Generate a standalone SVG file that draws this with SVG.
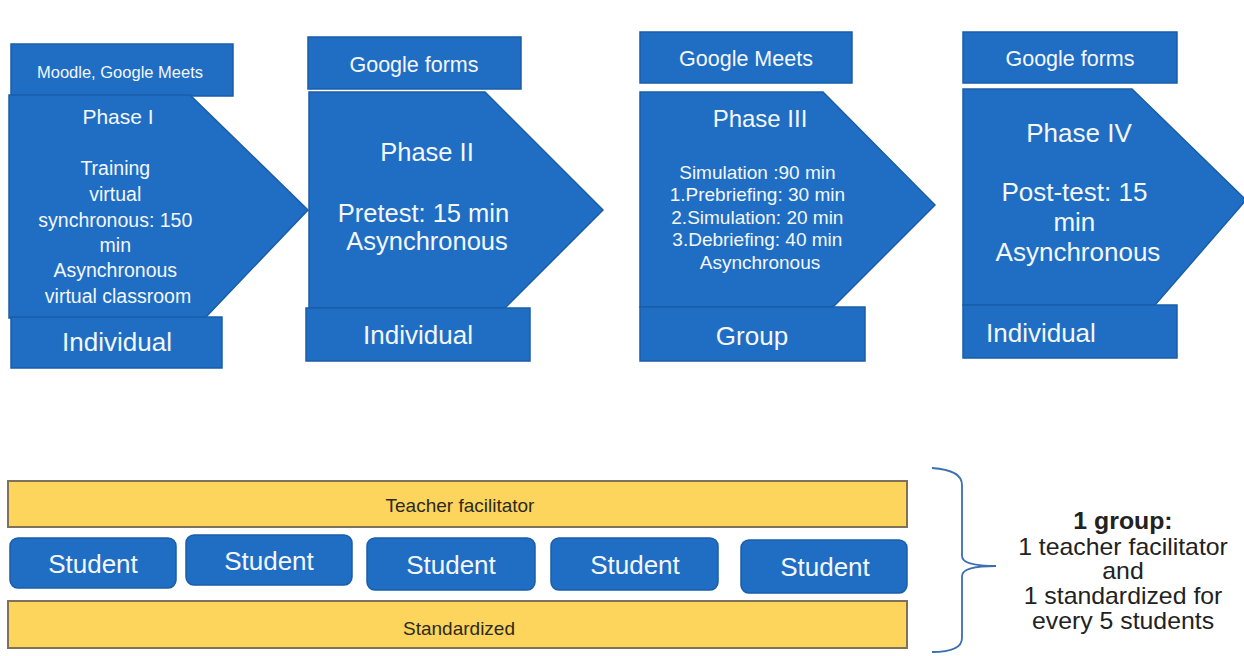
<svg xmlns="http://www.w3.org/2000/svg" width="1244" height="656" viewBox="0 0 1244 656">
  <style>
    .blue { fill: #1f6ec4; stroke: #1a5da8; stroke-width: 1.5; }
    .gold { fill: #fdd55c; stroke: #7d7358; stroke-width: 2; }
    .w { fill: #f4f7fc; font-family: "Liberation Sans", Arial, sans-serif; text-anchor: middle; }
    .left { text-anchor: start; }
    .d { fill: #2e2a1e; font-family: "Liberation Sans", Arial, sans-serif; text-anchor: middle; font-size: 19px; }
    .k { fill: #222; font-family: "Liberation Sans", Arial, sans-serif; text-anchor: middle; font-size: 23px; }
  </style>

  <rect width="1244" height="656" fill="#ffffff"/>

  <!-- Phase I -->
  <g id="phase1">
    <rect class="blue" x="11" y="44" width="222" height="52"/>
    <text class="w" x="120" y="78" font-size="16.5">Moodle, Google Meets</text>
    <polygon class="blue" points="9,95 190,95 308,210 205,318 9,318"/>
    <text class="w" x="118" y="124" font-size="21">Phase I</text>
    <text class="w" font-size="19.5">
      <tspan x="118" y="175">Training</tspan>
      <tspan x="118" y="201">virtual</tspan>
      <tspan x="118" y="227">synchronous: 150</tspan>
      <tspan x="118" y="252">min</tspan>
      <tspan x="118" y="277">Asynchronous</tspan>
      <tspan x="118" y="303">virtual classroom</tspan>
    </text>
    <rect class="blue" x="11" y="317" width="211" height="51"/>
    <text class="w" x="117" y="351" font-size="26">Individual</text>
  </g>

  <!-- Phase II -->
  <g id="phase2">
    <rect class="blue" x="308" y="37" width="213" height="52"/>
    <text class="w" x="414" y="72" font-size="21.5">Google forms</text>
    <polygon class="blue" points="309,92 485,92 603,210 505,308 309,308"/>
    <text class="w" x="427" y="161" font-size="25.5">Phase II</text>
    <text class="w" font-size="25.5">
      <tspan x="427" y="222">Pretest: 15 min</tspan>
      <tspan x="427" y="250">Asynchronous</tspan>
    </text>
    <rect class="blue" x="306" y="308" width="224" height="53"/>
    <text class="w" x="418" y="344" font-size="26">Individual</text>
  </g>

  <!-- Phase III -->
  <g id="phase3">
    <rect class="blue" x="640" y="32" width="212" height="51"/>
    <text class="w" x="746" y="66" font-size="21.5">Google Meets</text>
    <polygon class="blue" points="640,92 823,92 935,205 833,307 640,307"/>
    <text class="w" x="760" y="127" font-size="24">Phase III</text>
    <text class="w" font-size="19">
      <tspan x="760" y="179">Simulation :90 min</tspan>
      <tspan x="760" y="201">1.Prebriefing: 30 min</tspan>
      <tspan x="760" y="224">2.Simulation: 20 min</tspan>
      <tspan x="760" y="246">3.Debriefing: 40 min</tspan>
      <tspan x="760" y="269">Asynchronous</tspan>
    </text>
    <rect class="blue" x="640" y="307" width="225" height="54"/>
    <text class="w" x="752" y="345" font-size="26">Group</text>
  </g>

  <!-- Phase IV -->
  <g id="phase4">
    <rect class="blue" x="963" y="32" width="214" height="51"/>
    <text class="w" x="1070" y="66" font-size="21.5">Google forms</text>
    <polygon class="blue" points="963,89 1132,89 1246,200 1155,305 963,305"/>
    <text class="w" x="1079" y="142" font-size="26">Phase IV</text>
    <text class="w" font-size="26">
      <tspan x="1078" y="201">Post-test: 15</tspan>
      <tspan x="1078" y="231">min</tspan>
      <tspan x="1078" y="261">Asynchronous</tspan>
    </text>
    <rect class="blue" x="963" y="305" width="214" height="53"/>
    <text class="w left" x="986" y="342" font-size="26">Individual</text>
  </g>

  <!-- Group composition -->
  <g id="teacher">
    <rect class="gold" x="8" y="481" width="899" height="46"/>
    <text class="d" x="460" y="512">Teacher facilitator</text>
  </g>
  <g id="students">
    <rect class="blue" x="10" y="538" width="166" height="50" rx="8"/>
    <text class="w" x="93" y="573" font-size="26">Student</text>
    <rect class="blue" x="186" y="535" width="166" height="50" rx="8"/>
    <text class="w" x="269" y="570" font-size="26">Student</text>
    <rect class="blue" x="367" y="538" width="168" height="52" rx="8"/>
    <text class="w" x="451" y="574" font-size="26">Student</text>
    <rect class="blue" x="551" y="538" width="167" height="52" rx="8"/>
    <text class="w" x="635" y="574" font-size="26">Student</text>
    <rect class="blue" x="741" y="540" width="166" height="53" rx="8"/>
    <text class="w" x="825" y="576" font-size="26">Student</text>
  </g>
  <g id="standardized">
    <rect class="gold" x="8" y="601" width="899" height="47"/>
    <text class="d" x="459" y="635">Standardized</text>
  </g>

  <g id="connectors">
    <path d="M932,468 Q962,470 962,485 L962,556 Q962,566 996,566 Q962,566 962,576 L962,638 Q962,652 932,652" fill="none" stroke="#3b6fb0" stroke-width="1.8"/>
  </g>

  <!-- note, slightly widened lettering -->
  <g id="note" transform="translate(1123,0) scale(1.08,1) translate(-1123,0)">
    <text class="k" x="1123" y="529" font-weight="bold">1 group:</text>
    <text class="k" x="1123" y="555">1 teacher facilitator</text>
    <text class="k" x="1123" y="579">and</text>
    <text class="k" x="1123" y="604">1 standardized for</text>
    <text class="k" x="1123" y="629">every 5 students</text>
  </g>
</svg>
